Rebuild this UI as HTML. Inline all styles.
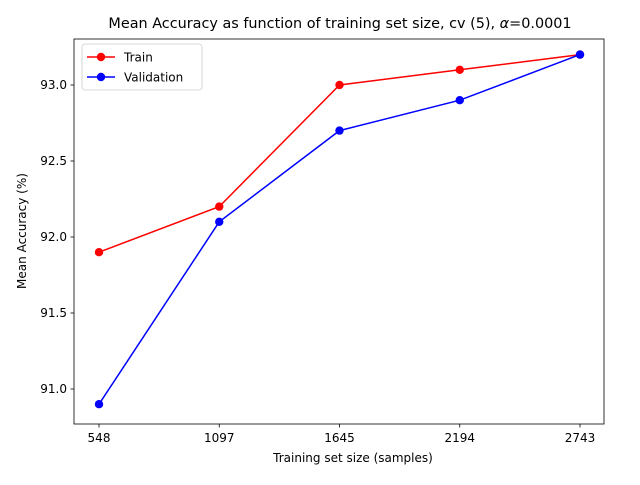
<!DOCTYPE html>
<html><head><meta charset="utf-8"><style>
body{margin:0;background:#fff;}
svg text{font-family:"DejaVu Sans","Liberation Sans",sans-serif;fill:#000;}
</style></head><body>
<svg id="chart" width="640" height="480" xmlns="http://www.w3.org/2000/svg">
<rect width="640" height="480" fill="#fff"/>
<text x="340" y="28" font-size="14.4" text-anchor="middle">Mean Accuracy as function of training set size, cv (5), <tspan font-style="italic">α</tspan>=0.0001</text>
<g id="axes"></g>
<text x="353" y="462" font-size="12" text-anchor="middle">Training set size (samples)</text>
<text transform="translate(26,231) rotate(-90)" font-size="12" text-anchor="middle">Mean Accuracy (%)</text>
</svg>
<script>
const categories=["548","1097","1645","2194","2743"];
const trainValues=[91.9,92.2,93.0,93.1,93.2];
const valValues=[90.9,92.1,92.7,92.9,93.2];
const yTicks=[91.0,91.5,92.0,92.5,93.0];
const L=74,R=604,T=39,B=424;
const n=categories.length;
const xs=i=>99+i*(580-99)/(n-1);
const ys=v=>85-(v-93)*152;
const NS="http://www.w3.org/2000/svg";
const g=document.getElementById('axes');
function mk(tag,a,p){const e=document.createElementNS(NS,tag);for(const k in a)e.setAttribute(k,a[k]);(p||g).appendChild(e);return e;}
yTicks.forEach(v=>{const y=ys(v);
 const tk=mk('line',{x1:L-3.5,x2:L,y1:y,y2:y,stroke:'#000','stroke-width':0.8});
 
 
 const t=mk('text',{x:L-7,y:y+4,'font-size':12,'text-anchor':'end'});t.textContent=v.toFixed(1);
 
 
});
categories.forEach((c,i)=>{const x=xs(i);
 const tk=mk('line',{x1:x,x2:x,y1:B,y2:B+3.5,stroke:'#000','stroke-width':0.8});
 
 
 const t=mk('text',{x:x,y:B+18,'font-size':12,'text-anchor':'middle'});t.textContent=c;
 
 
});
function series(vals,color,name){
 const pl=mk('polyline',{points:vals.map((v,i)=>xs(i)+','+ys(v)).join(' '),fill:'none',stroke:color,'stroke-width':1.5});
 
 
 vals.forEach((v,i)=>{const c=mk('circle',{cx:xs(i),cy:ys(v),r:4.2,fill:color});
  
  });
}
series(trainValues,'#ff0000','train');
series(valValues,'#0000ff','validation');
const fr=mk('rect',{x:L,y:T,width:R-L,height:B-T,fill:'none',stroke:'#000','stroke-width':0.8});


const lg=mk('g',{});


mk('rect',{x:82,y:44,width:120,height:46,rx:3,fill:'#fff',stroke:'#ccc','stroke-width':0.8},lg);
[['Train','#ff0000',57],['Validation','#0000ff',77]].forEach(([lab,col,y])=>{
 const e=mk('g',{},lg);
 
 
 mk('line',{x1:87,x2:115,y1:y,y2:y,stroke:col,'stroke-width':1.5},e);
 mk('circle',{cx:101,cy:y,r:4.2,fill:col},e);
 const t=mk('text',{x:124,y:y+4.5,'font-size':12},e);t.textContent=lab;
});
</script>
</body></html>
